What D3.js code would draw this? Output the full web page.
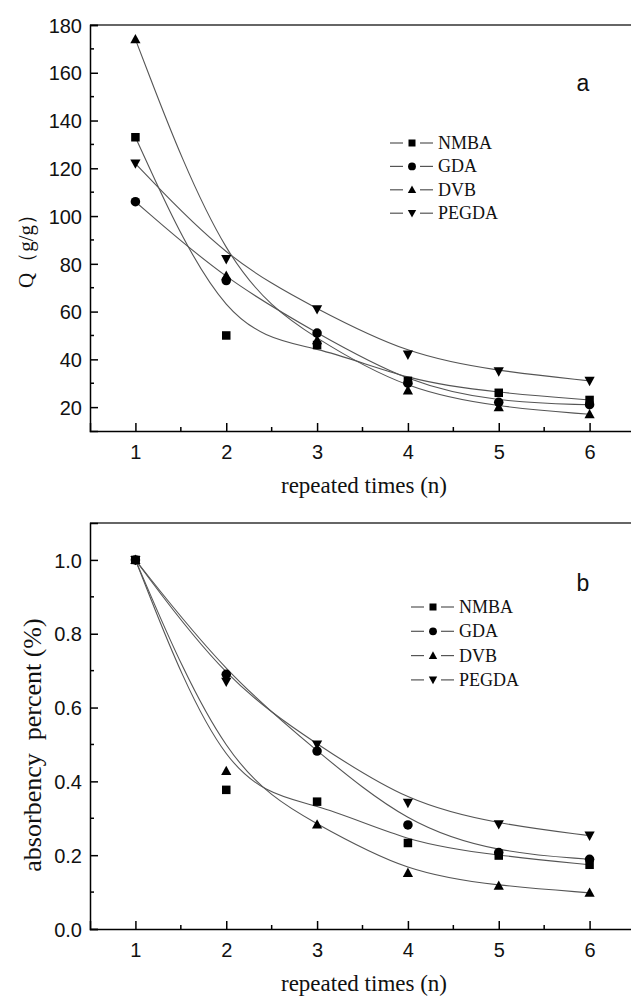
<!DOCTYPE html>
<html>
<head>
<meta charset="utf-8">
<script src="https://d3js.org/d3.v7.min.js"></script>
<style>
  body { margin: 0; background: #fff; }
  svg { display: block; }
  .tick-label { font-family: "Liberation Sans", Arial, sans-serif; font-size: 20px; fill: #111; }
  .axis-title { font-family: "Liberation Serif", "Times New Roman", serif; fill: #111; }
  .legend-text { font-family: "Liberation Serif", "Times New Roman", serif; font-size: 18px; fill: #111; }
</style>
</head>
<body>
<script>
// repeat number on the x axis
var repeats = [1, 2, 3, 4, 5, 6];
var seriesNames = ["NMBA", "GDA", "DVB", "PEGDA"];
var markerTypes = ["square", "circle", "triangle", "triangleDown"];

// panel a : Q (g/g)
var qNMBA  = [133, 50, 46, 31, 26, 23];
var qGDA   = [106, 73, 51, 30, 22, 21];
var qDVB   = [174, 75, 48, 27, 20, 17];
var qPEGDA = [122, 82, 61, 42, 35, 31];

// panel b : absorbency percent
var pNMBA  = [1.0, 0.377, 0.345, 0.233, 0.199, 0.174];
var pGDA   = [1.0, 0.690, 0.482, 0.282, 0.207, 0.189];
var pDVB   = [1.0, 0.428, 0.283, 0.152, 0.117, 0.098];
var pPEGDA = [1.0, 0.670, 0.500, 0.342, 0.284, 0.253];

var xTicks = [1, 2, 3, 4, 5, 6];
var qTicks = [20, 40, 60, 80, 100, 120, 140, 160, 180];
var pTicks = [0.0, 0.2, 0.4, 0.6, 0.8, 1.0];

var W = 631, H = 997;
var svg = d3.select("body").append("svg").attr("width", W).attr("height", H);

function marker(g, type, cx, cy, s) {
  if (type === "square") {
    g.append("rect").attr("x", cx - s / 2).attr("y", cy - s / 2)
      .attr("width", s).attr("height", s).attr("fill", "#000");
  } else if (type === "circle") {
    g.append("circle").attr("cx", cx).attr("cy", cy).attr("r", s * 0.56).attr("fill", "#000");
  } else if (type === "triangle") {
    var h = s * 1.05, w = s * 1.2;
    g.append("path").attr("d", "M" + cx + "," + (cy - h * 0.6) + "L" + (cx + w / 2) + "," + (cy + h * 0.45) +
      "L" + (cx - w / 2) + "," + (cy + h * 0.45) + "Z").attr("fill", "#000");
  } else {
    var h2 = s * 1.05, w2 = s * 1.2;
    g.append("path").attr("d", "M" + cx + "," + (cy + h2 * 0.6) + "L" + (cx + w2 / 2) + "," + (cy - h2 * 0.45) +
      "L" + (cx - w2 / 2) + "," + (cy - h2 * 0.45) + "Z").attr("fill", "#000");
  }
}

function panel(opt) {
  var x = d3.scaleLinear().domain([0.5, 6.5]).range([90, 635]);
  var y = d3.scaleLinear().domain(opt.yDomain).range([opt.bottom, opt.top]);
  var g = svg.append("g");

  // top frame line
  g.append("line").attr("x1", 90).attr("x2", W).attr("y1", opt.top).attr("y2", opt.top)
    .attr("stroke", "#333").attr("stroke-width", 1.5);

  // x axis with inward ticks
  var xAxis = d3.axisBottom(x).tickValues(xTicks).tickSize(-8).tickPadding(14)
    .tickFormat(d3.format("d"));
  var xg = g.append("g").attr("transform", "translate(0," + opt.bottom + ")").call(xAxis);
  var xMinor = d3.range(1.5, 6.5, 1);
  xg.selectAll(".minor").data(xMinor).enter().append("line")
    .attr("x1", function (d) { return x(d); }).attr("x2", function (d) { return x(d); })
    .attr("y1", 0).attr("y2", -4).attr("stroke", "#000").attr("stroke-width", 1.5);

  // y axis with inward ticks
  var yAxis = d3.axisLeft(y).tickValues(opt.yTicks).tickSize(-8).tickPadding(8)
    .tickFormat(opt.fmt);
  var yg = g.append("g").attr("transform", "translate(90,0)").call(yAxis);
  yg.selectAll(".minor").data(opt.yMinor).enter().append("line")
    .attr("y1", function (d) { return y(d); }).attr("y2", function (d) { return y(d); })
    .attr("x1", 0).attr("x2", 4).attr("stroke", "#000").attr("stroke-width", 1.5);

  [xg, yg].forEach(function (a) {
    a.attr("font-size", null).attr("font-family", null);
    a.select(".domain").attr("stroke", "#000").attr("stroke-width", 1.5);
    a.selectAll(".tick line").attr("stroke", "#000").attr("stroke-width", 1.5);
    a.selectAll(".tick text").attr("class", "tick-label");
  });
  yg.selectAll(".tick text").attr("dy", "0.36em");

  // B-spline connecting curves, then markers
  var line = d3.line().x(function (d, i) { return x(repeats[i]); })
    .y(function (d) { return y(d); }).curve(d3.curveBasis);
  opt.series.forEach(function (s) {
    g.append("path").attr("d", line(s)).attr("fill", "none")
      .attr("stroke", "#555").attr("stroke-width", 1.1);
  });
  opt.series.forEach(function (s, k) {
    s.forEach(function (v, i) { marker(g, markerTypes[k], x(repeats[i]), y(v), 8.5); });
  });

  // legend
  seriesNames.forEach(function (name, k) {
    var ly = opt.legY + k * opt.legDy;
    g.append("line").attr("x1", opt.legX).attr("x2", opt.legX + 13).attr("y1", ly).attr("y2", ly)
      .attr("stroke", "#555").attr("stroke-width", 1.2);
    g.append("line").attr("x1", opt.legX + 30).attr("x2", opt.legX + 43).attr("y1", ly).attr("y2", ly)
      .attr("stroke", "#555").attr("stroke-width", 1.2);
    marker(g, markerTypes[k], opt.legX + 22, ly, 7);
    g.append("text").attr("class", "legend-text").attr("x", opt.legX + 48).attr("y", ly + 6).text(name);
  });

  // panel letter
  g.append("text").attr("x", 583).attr("y", opt.letterY).attr("text-anchor", "middle")
    .attr("font-family", "Liberation Sans, Arial, sans-serif").attr("font-size", 23)
    .attr("fill", "#111").text(opt.letter);

  // axis titles
  g.append("text").attr("class", "axis-title").attr("font-size", 23)
    .attr("x", 364).attr("y", opt.bottom + 62).attr("text-anchor", "middle")
    .text("repeated times (n)");
  g.append("text").attr("class", "axis-title").attr("font-size", opt.yTitleSize)
    .attr("transform", "translate(" + opt.yTitleX + "," + opt.yTitleY + ") rotate(-90)")
    .attr("text-anchor", "middle").attr("xml:space", "preserve").text(opt.yTitle);
}

panel({
  top: 25, bottom: 431, yDomain: [10, 180], yTicks: qTicks,
  yMinor: d3.range(30, 180, 20), fmt: d3.format("d"),
  series: [qNMBA, qGDA, qDVB, qPEGDA],
  legX: 390, legY: 143, legDy: 23.4, letter: "a", letterY: 91,
  yTitle: "Q（g/g）", yTitleSize: 21, yTitleX: 33, yTitleY: 246
});

panel({
  top: 523, bottom: 929, yDomain: [0, 1.1], yTicks: pTicks,
  yMinor: d3.range(0.1, 1.1, 0.2), fmt: d3.format(".1f"),
  series: [pNMBA, pGDA, pDVB, pPEGDA],
  legX: 411, legY: 607, legDy: 24.3, letter: "b", letterY: 591,
  yTitle: "absorbency  percent (%)", yTitleSize: 26, yTitleX: 41, yTitleY: 745
});
</script>
</body>
</html>
